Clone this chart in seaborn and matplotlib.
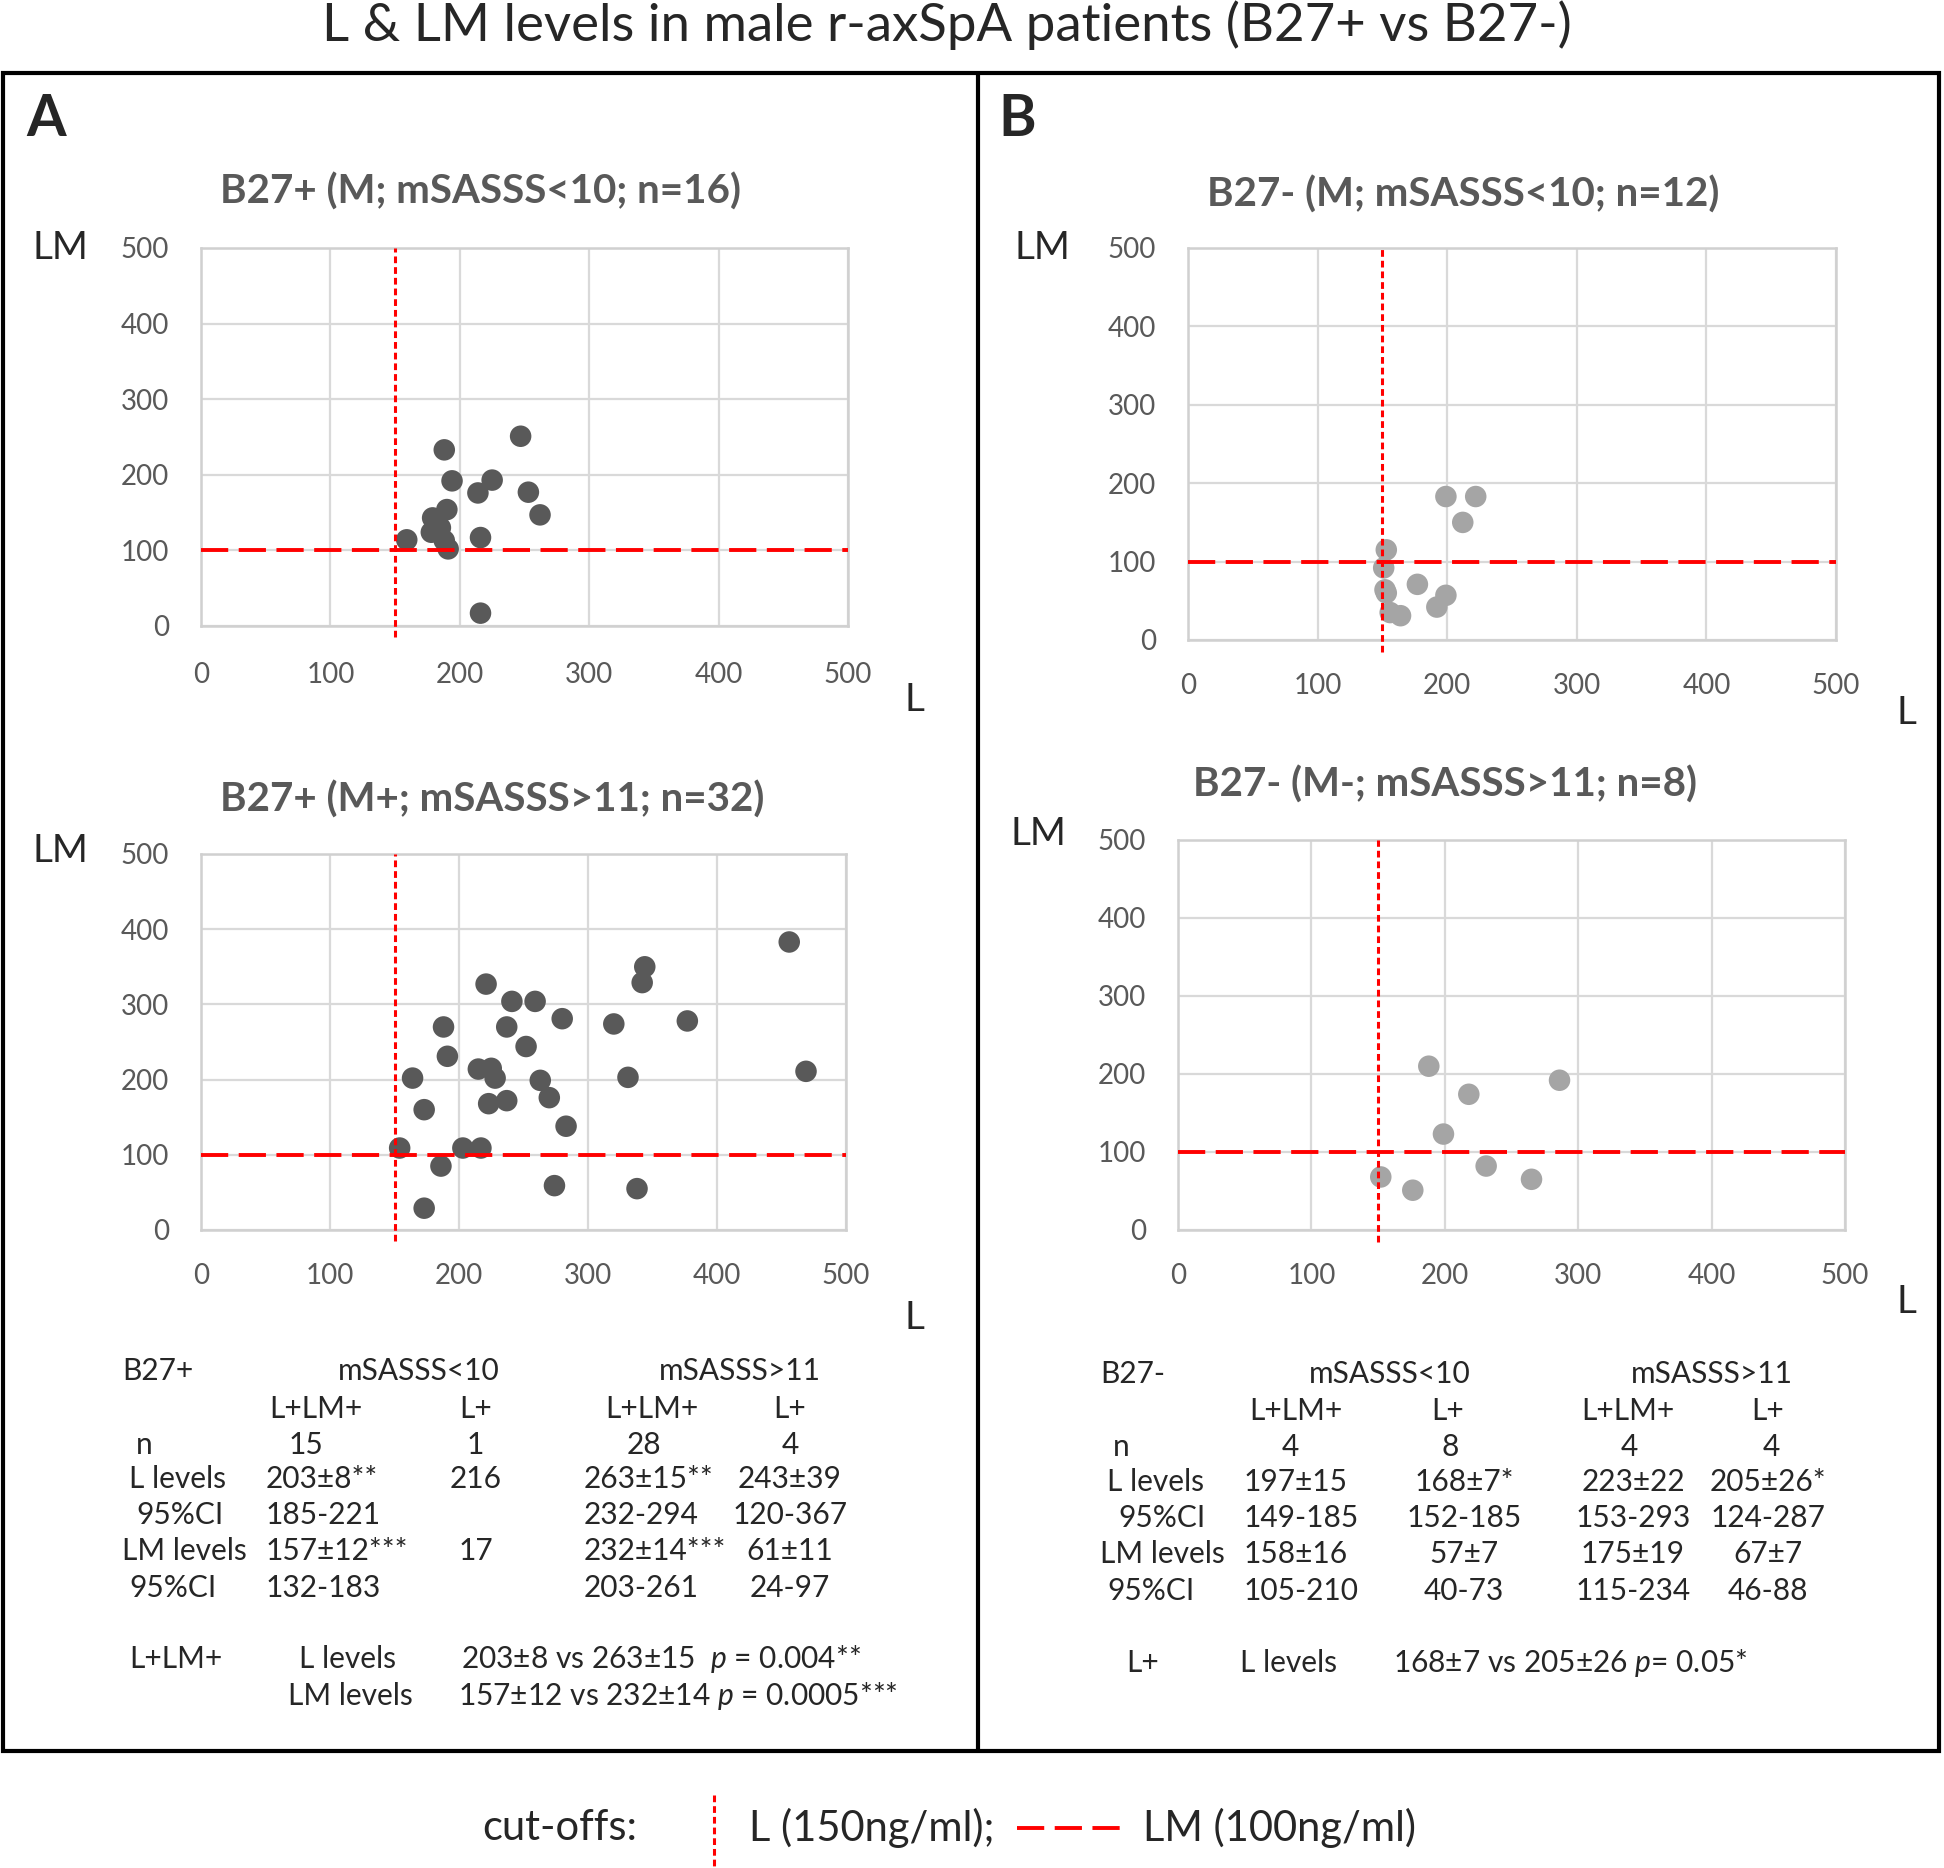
import matplotlib
matplotlib.use("Agg")
import matplotlib.pyplot as plt
import seaborn as sns
import pandas as pd
from matplotlib.lines import Line2D
from matplotlib.patches import Rectangle

# cut-off values (ng/ml)
L_CUT = 150
LM_CUT = 100

# B27+ (M; mSASSS<10; n=16)
a_top_L = [188, 247, 194, 225, 214, 253, 190, 262, 179, 185, 178, 188, 159, 216, 191, 216]
a_top_LM = [233, 251, 192, 193, 176, 177, 154, 147, 143, 130, 124, 113, 114, 117, 102, 17]

# B27+ (M+; mSASSS>11; n=32)
a_bot_L = [456, 344, 342, 221, 241, 259, 280, 320, 377, 188, 237, 252, 191, 215, 225, 228,
           164, 263, 331, 469, 173, 223, 237, 270, 283, 154, 203, 217, 186, 274, 338, 173]
a_bot_LM = [383, 350, 329, 327, 304, 304, 281, 274, 278, 270, 270, 244, 231, 214, 215, 202,
            202, 199, 203, 211, 160, 168, 172, 176, 138, 109, 109, 109, 85, 59, 55, 29]

# B27- (M; mSASSS<10; n=12)
b_top_L = [199, 222, 212, 153, 151, 152, 153, 177, 199, 192, 156, 164]
b_top_LM = [183, 183, 150, 115, 92, 64, 60, 71, 57, 42, 35, 31]

# B27- (M-; mSASSS>11; n=8)
b_bot_L = [188, 286, 218, 199, 231, 152, 265, 176]
b_bot_LM = [210, 192, 174, 123, 82, 68, 65, 51]

ticks = [0, 100, 200, 300, 400, 500]

row_labels = ["n", "L levels", "95%CI", "LM levels", "95%CI"]
sub_cols = ["L+LM+", "L+", "L+LM+", "L+"]

a_n = ["15", "1", "28", "4"]
a_l = ["203±8**", "216", "263±15**", "243±39"]
a_lci = ["185-221", "", "232-294", "120-367"]
a_lm = ["157±12***", "17", "232±14***", "61±11"]
a_lmci = ["132-183", "", "203-261", "24-97"]

b_n = ["4", "8", "4", "4"]
b_l = ["197±15", "168±7*", "223±22", "205±26*"]
b_lci = ["149-185", "152-185", "153-293", "124-287"]
b_lm = ["158±16", "57±7", "175±19", "67±7"]
b_lmci = ["105-210", "40-73", "115-234", "46-88"]

sns.set_style("white")
plt.rcParams["font.family"] = ["Lato", "DejaVu Sans"]
plt.rcParams["mathtext.fontset"] = "custom"
plt.rcParams["mathtext.it"] = "Lato:italic"
plt.rcParams["mathtext.rm"] = "Lato"

W, H = 1944, 1868
fig = plt.figure(figsize=(W / 100, H / 100), dpi=100)

TS = 21.5  # table font size


def fx(x):
    return x / W


def fy(y):
    return 1 - y / H


def txt(x, y, s, size=TS, ha="left", **kw):
    fig.text(fx(x), fy(y), s, fontsize=size, ha=ha, va="center", **kw)


def panel(box, L, LM, color, xpad):
    left, top, right, bottom = box
    ax = fig.add_axes([fx(left), fy(bottom), (right - left) / W, (bottom - top) / H])
    df = pd.DataFrame({"L": L, "LM": LM})
    sns.scatterplot(data=df, x="L", y="LM", ax=ax, color=color, s=240,
                    edgecolor="none", linewidth=0, zorder=3, clip_on=False)
    ax.set_xlim(0, 500)
    ax.set_ylim(0, 500)
    ax.set_xticks(ticks)
    ax.set_yticks(ticks)
    ax.set_xlabel("")
    ax.set_ylabel("")
    ax.grid(True, color="#d9d9d9", lw=1.6)
    ax.set_axisbelow(True)
    for sp in ax.spines.values():
        sp.set_color("#d0d0d0")
        sp.set_linewidth(1.8)
    ax.tick_params(axis="y", length=0, labelsize=20, labelcolor="#595959", pad=23)
    ax.tick_params(axis="x", length=0, labelsize=20, labelcolor="#595959", pad=xpad)
    ax.axvline(L_CUT, ymin=-0.03, ymax=1.0, color="red", lw=2.2,
               ls=(0, (2.2, 1.3)), clip_on=False, zorder=4)
    ax.axhline(LM_CUT, color="red", lw=2.8, ls=(0, (7, 2.7)), zorder=4)
    return ax


panel((201, 248, 848, 626), a_top_L, a_top_LM, "#595959", 26)
panel((201, 854, 846, 1230), a_bot_L, a_bot_LM, "#595959", 24)
panel((1188, 248, 1836, 640), b_top_L, b_top_LM, "#a5a5a5", 24)
panel((1178, 840, 1845, 1230), b_bot_L, b_bot_LM, "#a5a5a5", 24)

# titles and labels
txt(947, 25, "L & LM levels in male r-axSpA patients (B27+ vs B27-)", size=38, ha="center")
txt(46, 120, "A", size=41, ha="center", fontweight="bold")
txt(1017, 120, "B", size=41, ha="center", fontweight="bold")

sub_titles = ["B27+ (M; mSASSS<10; n=16)", "B27+ (M+; mSASSS>11; n=32)",
              "B27- (M; mSASSS<10; n=12)", "B27- (M-; mSASSS>11; n=8)"]
for (x, y), s in zip([(480, 192), (492, 800), (1463, 195), (1445, 785)], sub_titles):
    txt(x, y, s, size=29, ha="center", fontweight="bold", color="#595959")

for x, y in [(60, 248), (60, 851), (1042, 248), (1038, 834)]:
    txt(x, y, "LM", size=28, ha="center")
for x, y in [(914, 700), (914, 1318), (1906, 713), (1906, 1302)]:
    txt(x, y, "L", size=28, ha="center")


def table(header_y, hdr_x, top_label, grp_x, sub_x, row_y, lab_x, n_x, val_x, val_ha, values):
    txt(hdr_x, header_y, top_label)
    txt(grp_x[0], header_y, "mSASSS<10", ha="center")
    txt(grp_x[1], header_y, "mSASSS>11", ha="center")
    for x, s in zip(sub_x, sub_cols):
        txt(x, row_y[0] - 36, s, ha="center")
    for y, lx, lab in zip(row_y, lab_x, row_labels):
        txt(lx, y, lab)
    for x, s in zip(n_x, values[0]):
        txt(x, row_y[0], s, ha="center")
    for y, row in zip(row_y[1:], values[1:]):
        for x, ha, s in zip(val_x, val_ha, row):
            txt(x, y, s, ha=ha)


table(1371, 122, "B27+", [419, 740], [316, 476, 652, 790],
      [1445, 1479, 1515, 1551, 1588], [136, 129, 136, 122, 129],
      [306, 475, 644, 790], [266, 476, 584, 790], ["left", "center", "left", "center"],
      [a_n, a_l, a_lci, a_lm, a_lmci])
table(1374, 1100, "B27-", [1390, 1712], [1296, 1448, 1628, 1768],
      [1447, 1482, 1518, 1554, 1591], [1113, 1107, 1118, 1100, 1107],
      [1290, 1450, 1629, 1771], [1244, 1464, 1633, 1768], ["left", "center", "center", "center"],
      [b_n, b_l, b_lci, b_lm, b_lmci])

# comparisons
txt(129, 1659, "L+LM+")
txt(299, 1659, "L levels")
txt(461, 1659, r"203±8 vs 263±15  $\it{p}$ = 0.004**")
txt(288, 1696, "LM levels")
txt(458, 1696, r"157±12 vs 232±14 $\it{p}$ = 0.0005***")
txt(1126, 1663, "L+")
txt(1240, 1663, "L levels")
txt(1393, 1663, r"168±7 vs 205±26 $\it{p}$= 0.05*")

# frames
fig.patches.append(Rectangle((fx(3), fy(1751)), (1939 - 3) / W, (1751 - 73) / H,
                             transform=fig.transFigure, fill=False, ec="black", lw=3))
fig.lines.append(Line2D([fx(978), fx(978)], [fy(73), fy(1751)], transform=fig.transFigure,
                        color="black", lw=3))

# cut-off legend
txt(560, 1828, "cut-offs:", size=30, ha="center")
fig.lines.append(Line2D([fx(714), fx(714)], [fy(1795), fy(1866)], transform=fig.transFigure,
                        color="red", lw=2.2, ls=(0, (2.2, 1.3))))
txt(749, 1828, "L (150ng/ml);", size=30)
fig.lines.append(Line2D([fx(1017), fx(1128)], [fy(1828), fy(1828)], transform=fig.transFigure,
                        color="red", lw=2.8, ls=(0, (7, 2.7))))
txt(1143, 1828, "LM (100ng/ml)", size=30)

fig.savefig("out.png", dpi=100, facecolor="white")
